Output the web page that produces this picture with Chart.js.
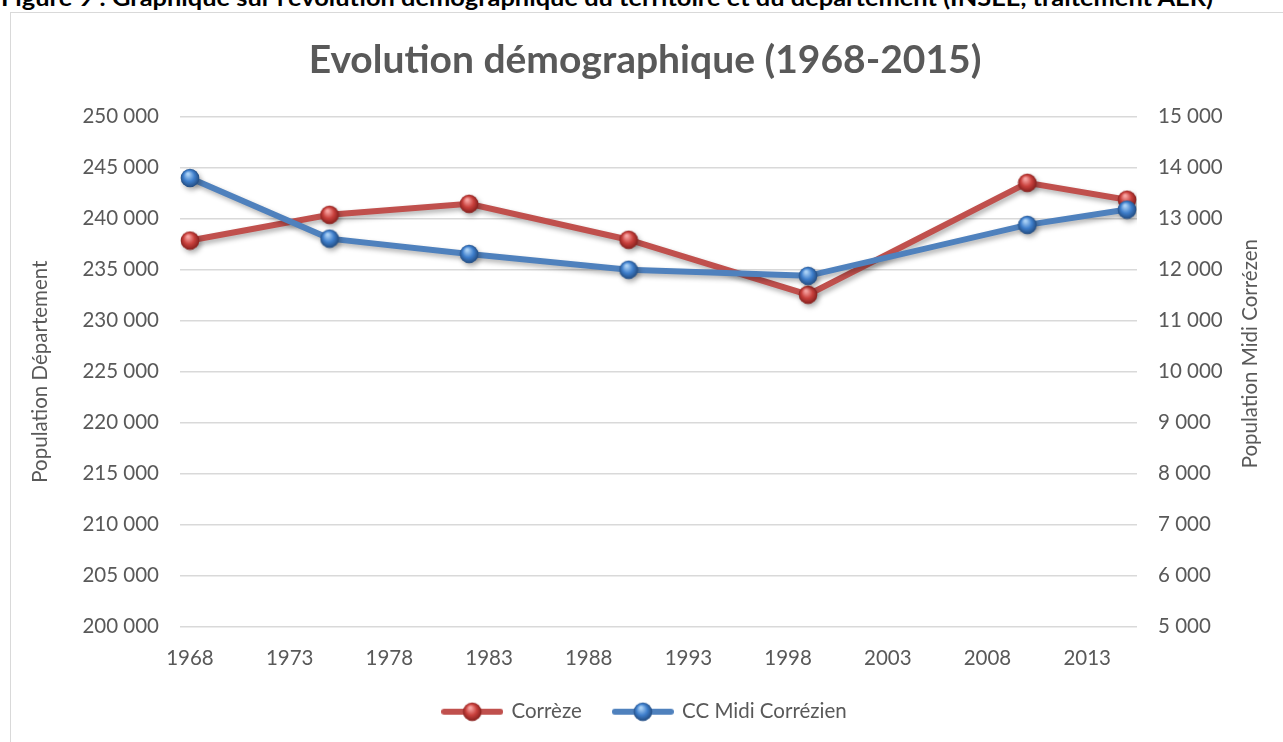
<!DOCTYPE html>
<html>
<head>
<meta charset="utf-8">
<script src="https://cdn.jsdelivr.net/npm/chart.js@4.4.0/dist/chart.umd.min.js"></script>
<style>
html, body { margin: 0; padding: 0; background: #fff; overflow: hidden; }
#head { position: absolute; left: 1px; top: -16px; font: bold 22px Lato, sans-serif; white-space: nowrap; color: #000; transform-origin: 0 0; }
#frame { position: absolute; left: 10px; top: 12px; width: 1290px; height: 800px; border: 1px solid #d9d9d9; }
#wrap { position: absolute; left: 0; top: 0; width: 1283px; height: 742px; }
</style>
</head>
<body>
<div id="head">Figure 9 : Graphique sur l’évolution démographique du territoire et du département (INSEE, traitement AER)</div>
<div id="frame"></div>
<div id="wrap"><canvas id="chart"></canvas></div>
<script>
// data
const years = [1968, 1975, 1982, 1990, 1999, 2010, 2015];
const correze = [237860, 240390, 241470, 237940, 232550, 243530, 241870];
const midiCorrezien = [13800, 12610, 12310, 12000, 11880, 12880, 13180];
const yearTicks = [1968, 1973, 1978, 1983, 1988, 1993, 1998, 2003, 2008, 2013];
const leftRange = [200000, 250000, 5000];
const rightRange = [5000, 15000, 1000];

const grey = '#595959';
const font = { family: 'Lato', size: 20.5 };

// stretch the clipped header to the width it has in the picture
const head = document.querySelector('#head');
head.style.transform = 'scaleX(' + (1212 / head.offsetWidth) + ')';

const fmt = v => String(v).replace(/\B(?=(\d{3})+(?!\d))/g, ' ');

// shiny ball marker
function sphere(light, base, dark) {
    const c = document.createElement('canvas');
    c.width = c.height = 20;
    const g = c.getContext('2d');
    const grad = g.createRadialGradient(8, 6, 1, 10, 10, 10);
    grad.addColorStop(0, light);
    grad.addColorStop(0.5, base);
    grad.addColorStop(1, dark);
    g.fillStyle = grad;
    g.beginPath();
    g.arc(10, 10, 9.3, 0, Math.PI * 2);
    g.fill();
    return c;
}

// legend icon: line with a ball in the middle
function legendIcon(color, ball) {
    const c = document.createElement('canvas');
    c.width = 62;
    c.height = 20;
    const g = c.getContext('2d');
    g.strokeStyle = color;
    g.lineWidth = 6;
    g.lineCap = 'round';
    g.beginPath();
    g.moveTo(3, 10);
    g.lineTo(59, 10);
    g.stroke();
    g.drawImage(ball, 21, 0);
    return c;
}

const redBall = sphere('#f7a3a1', '#c9413d', '#7d1b19');
const blueBall = sphere('#a9d0f5', '#3f7fcc', '#1e4577');

const shadow = {
    id: 'shadow',
    beforeDatasetDraw(chart) {
        const ctx = chart.ctx;
        ctx.save();
        ctx.shadowColor = 'rgba(0,0,0,0.3)';
        ctx.shadowBlur = 5;
        ctx.shadowOffsetX = 2;
        ctx.shadowOffsetY = 3;
    },
    afterDatasetDraw(chart) {
        chart.ctx.restore();
    }
};

// right axis title reads bottom to top, like the left one
const rightTitle = {
    id: 'rightTitle',
    afterDraw(chart) {
        const ctx = chart.ctx;
        const a = chart.chartArea;
        ctx.save();
        ctx.translate(1250, (a.top + a.bottom) / 2 - 18);
        ctx.rotate(-Math.PI / 2);
        ctx.fillStyle = grey;
        ctx.font = font.size + 'px ' + font.family;
        ctx.textAlign = 'center';
        ctx.textBaseline = 'middle';
        ctx.fillText('Population Midi Corrézen', 0, 0);
        ctx.restore();
    }
};

const chart = document.querySelector('#chart').getContext('2d');

new Chart(chart, {
    type: 'line',
    data: {
        datasets: [
            {
                label: 'Corrèze',
                data: years.map((y, i) => ({ x: y, y: correze[i] })),
                borderColor: '#c0504d',
                borderWidth: 6,
                pointStyle: redBall,
                yAxisID: 'y',
                order: 2,
                legendIcon: legendIcon('#c0504d', redBall)
            },
            {
                label: 'CC Midi Corrézien',
                data: years.map((y, i) => ({ x: y, y: midiCorrezien[i] })),
                borderColor: '#4f81bd',
                borderWidth: 6,
                pointStyle: blueBall,
                yAxisID: 'y2',
                order: 1,
                legendIcon: legendIcon('#4f81bd', blueBall)
            }
        ]
    },
    options: {
        responsive: true,
        maintainAspectRatio: false,
        animation: false,
        layout: { padding: { left: 24, right: 17, top: 32, bottom: 10 } },
        plugins: {
            tooltip: { enabled: false },
            title: {
                display: true,
                text: 'Evolution démographique (1968-2015)',
                color: grey,
                font: { family: 'Lato', size: 39, weight: 'bold' },
                padding: { top: 5, bottom: 33 }
            },
            legend: {
                position: 'bottom',
                labels: {
                    usePointStyle: true,
                    pointStyleWidth: 58,
                    padding: 32,
                    color: grey,
                    font: font,
                    generateLabels: c => c.data.datasets.map((ds, i) => ({
                        text: ds.label,
                        pointStyle: ds.legendIcon,
                        datasetIndex: i,
                        hidden: false,
                        fontColor: grey,
                        lineWidth: 0,
                        strokeStyle: 'transparent',
                        fillStyle: 'transparent'
                    }))
                }
            }
        },
        scales: {
            x: {
                type: 'linear',
                min: 1967.5,
                max: 2015.5,
                afterBuildTicks: s => { s.ticks = yearTicks.map(v => ({ value: v })); },
                afterFit: s => { s.height = 43; },
                grid: { display: false },
                border: { display: false },
                ticks: { color: grey, font: font, padding: 12, maxRotation: 0, autoSkip: false, callback: v => String(v) }
            },
            y: {
                position: 'left',
                min: leftRange[0],
                max: leftRange[1],
                afterFit: s => { s.width = 156; },
                grid: { color: '#d9d9d9', lineWidth: 1.5, drawTicks: false },
                border: { display: false },
                ticks: { stepSize: leftRange[2], color: grey, font: font, padding: 21, callback: fmt },
                title: { display: true, text: 'Population Département', color: grey, font: font }
            },
            y2: {
                position: 'right',
                min: rightRange[0],
                max: rightRange[1],
                afterFit: s => { s.width = 129; },
                grid: { drawOnChartArea: false, drawTicks: false },
                border: { display: false },
                ticks: { stepSize: rightRange[2], color: grey, font: font, padding: 21, callback: fmt }
            }
        }
    },
    plugins: [shadow, rightTitle]
});
</script>
</body>
</html>
